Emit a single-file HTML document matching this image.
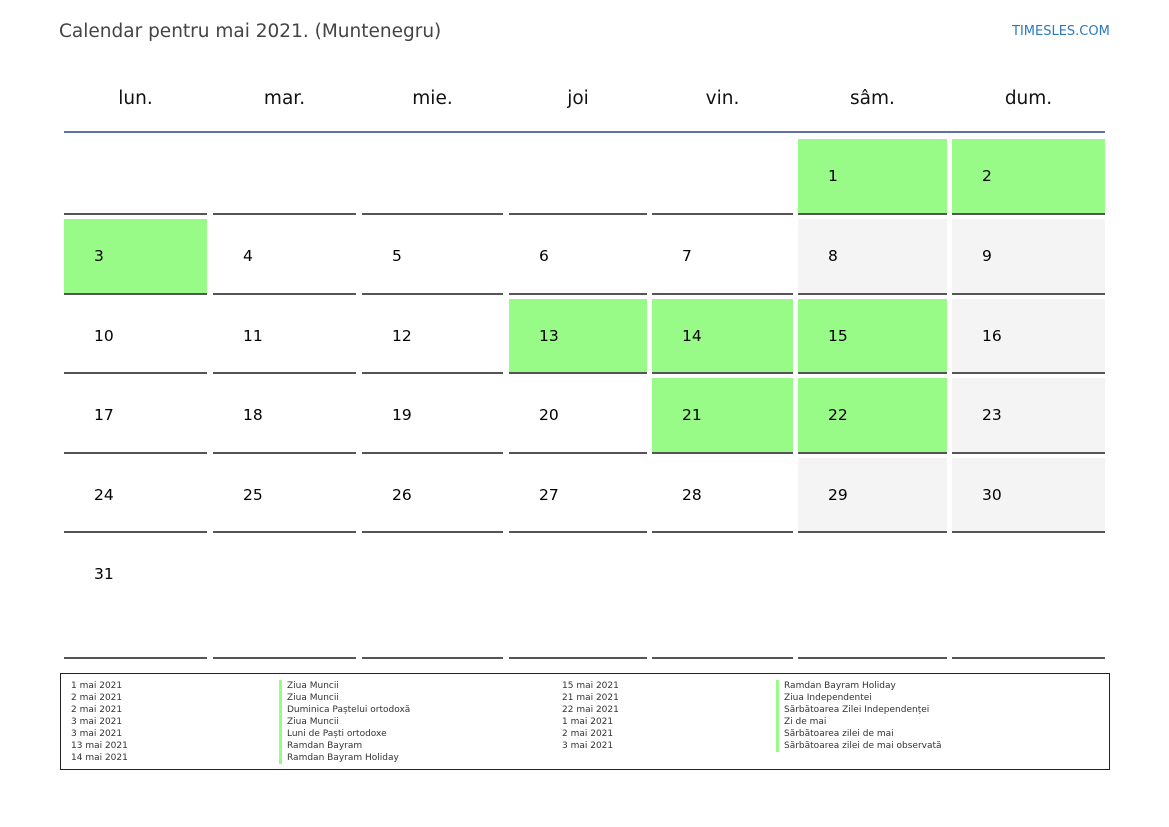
<!DOCTYPE html>
<html><head><meta charset="utf-8"><style>
body{margin:0;width:1169px;height:827px;background:#fff;position:relative;font-family:"DejaVu Sans","Liberation Sans",sans-serif;overflow:hidden}
.a{position:absolute}
.t{left:59px;top:21px;font-size:18.5px;color:#444}
.site{left:1012px;top:24px;font-size:13px;color:#2a7ac0}
.dn{top:88px;font-size:18.5px;color:#111;text-align:center}
.c{position:absolute;border-bottom:2px solid #555;box-sizing:border-box}
.c span{position:absolute;left:30px;font-size:15.5px;color:#000}
.g{background:#99fb87}.w{background:#f4f4f4}
.lg{font-size:9px;color:#333;line-height:12px}
.bar{border-left:3px solid #99fb87;padding-left:5px;margin-bottom:0}
.r1{top:139px;height:76px}.r2{top:219px;height:76px}.r3{top:299px;height:75px}.r4{top:378px;height:76px}.r5{top:458px;height:75px}.r6{top:537px;height:122px}
.r1 span,.r2 span,.r3 span,.r4 span,.r5 span{top:28px}.r6 span{top:28px}
.k1{left:64px;width:143px}.k2{left:213px;width:143px}.k3{left:362px;width:141px}.k4{left:509px;width:138px}.k5{left:652px;width:141px}.k6{left:798px;width:149px}.k7{left:952px;width:153px}
</style></head><body>
<div class="a t">Calendar pentru mai 2021. (Muntenegru)</div>
<div class="a site">TIMESLES.COM</div>
<div class="a dn k1">lun.</div>
<div class="a dn k2">mar.</div>
<div class="a dn k3">mie.</div>
<div class="a dn k4">joi</div>
<div class="a dn k5">vin.</div>
<div class="a dn k6">sâm.</div>
<div class="a dn k7">dum.</div>
<div class="a" style="left:64px;top:131px;width:1041px;height:2px;background:#5a73a0"></div>

<div class="c r1 k1"></div><div class="c r1 k2"></div><div class="c r1 k3"></div><div class="c r1 k4"></div><div class="c r1 k5"></div><div class="c r1 k6 g"><span>1</span></div><div class="c r1 k7 g"><span>2</span></div>

<div class="c r2 k1 g"><span>3</span></div><div class="c r2 k2"><span>4</span></div><div class="c r2 k3"><span>5</span></div><div class="c r2 k4"><span>6</span></div><div class="c r2 k5"><span>7</span></div><div class="c r2 k6 w"><span>8</span></div><div class="c r2 k7 w"><span>9</span></div>

<div class="c r3 k1"><span>10</span></div><div class="c r3 k2"><span>11</span></div><div class="c r3 k3"><span>12</span></div><div class="c r3 k4 g"><span>13</span></div><div class="c r3 k5 g"><span>14</span></div><div class="c r3 k6 g"><span>15</span></div><div class="c r3 k7 w"><span>16</span></div>

<div class="c r4 k1"><span>17</span></div><div class="c r4 k2"><span>18</span></div><div class="c r4 k3"><span>19</span></div><div class="c r4 k4"><span>20</span></div><div class="c r4 k5 g"><span>21</span></div><div class="c r4 k6 g"><span>22</span></div><div class="c r4 k7 w"><span>23</span></div>

<div class="c r5 k1"><span>24</span></div><div class="c r5 k2"><span>25</span></div><div class="c r5 k3"><span>26</span></div><div class="c r5 k4"><span>27</span></div><div class="c r5 k5"><span>28</span></div><div class="c r5 k6 w"><span>29</span></div><div class="c r5 k7 w"><span>30</span></div>

<div class="c r6 k1"><span>31</span></div><div class="c r6 k2"></div><div class="c r6 k3"></div><div class="c r6 k4"></div><div class="c r6 k5"></div><div class="c r6 k6"></div><div class="c r6 k7"></div>

<div class="a" style="left:60px;top:673px;width:1048px;height:95px;border:1px solid #222"></div>
<div class="a lg" style="left:71px;top:680px">1 mai 2021<br>2 mai 2021<br>2 mai 2021<br>3 mai 2021<br>3 mai 2021<br>13 mai 2021<br>14 mai 2021</div>
<div class="a lg" style="left:279px;top:680px"><div class="bar">Ziua Muncii</div><div class="bar">Ziua Muncii</div><div class="bar">Duminica Paștelui ortodoxă</div><div class="bar">Ziua Muncii</div><div class="bar">Luni de Paști ortodoxe</div><div class="bar">Ramdan Bayram</div><div class="bar">Ramdan Bayram Holiday</div></div>
<div class="a lg" style="left:562px;top:680px">15 mai 2021<br>21 mai 2021<br>22 mai 2021<br>1 mai 2021<br>2 mai 2021<br>3 mai 2021</div>
<div class="a lg" style="left:776px;top:680px"><div class="bar">Ramdan Bayram Holiday</div><div class="bar">Ziua Independentei</div><div class="bar">Sărbătoarea Zilei Independenței</div><div class="bar">Zi de mai</div><div class="bar">Sărbătoarea zilei de mai</div><div class="bar">Sărbătoarea zilei de mai observată</div></div>
</body></html>
